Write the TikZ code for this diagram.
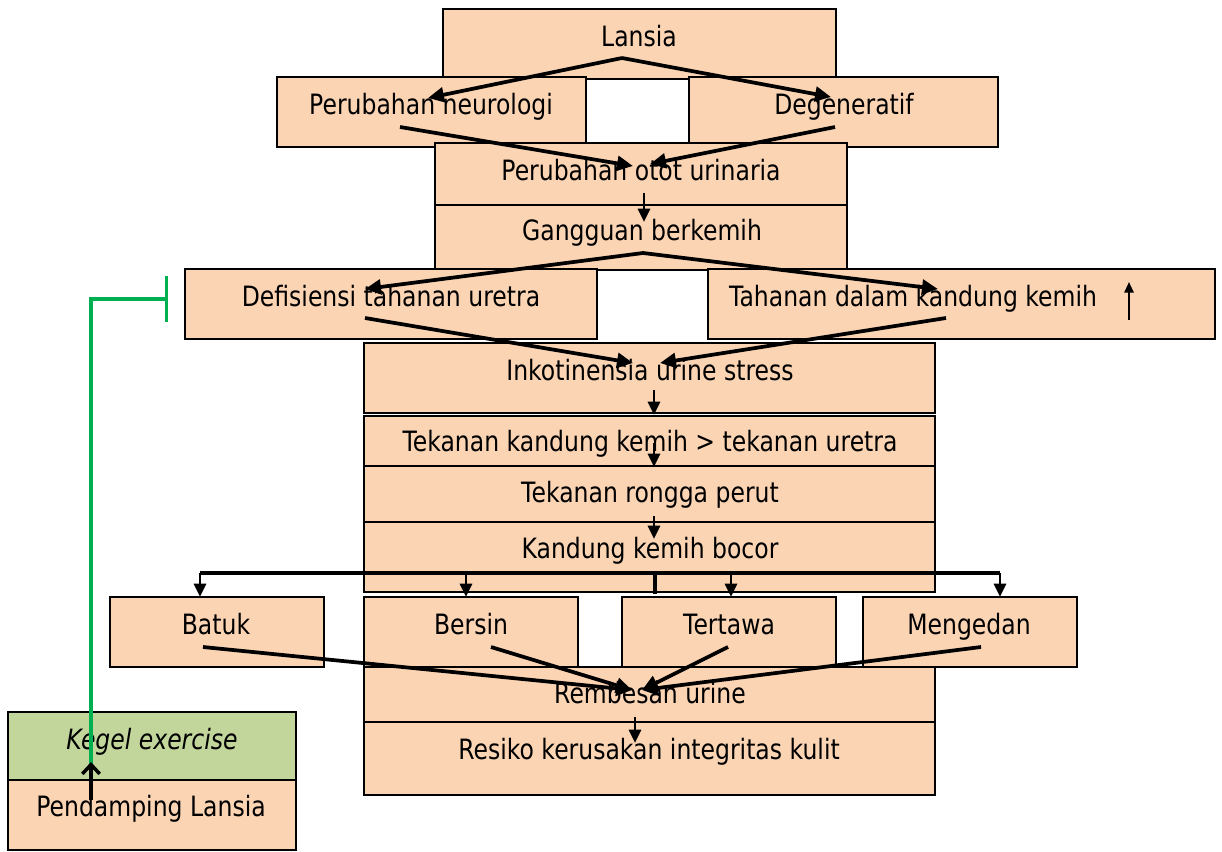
\documentclass[tikz,border=0pt]{standalone}
\usepackage{fontspec}
\setmainfont{DejaVu Sans}[FakeStretch=0.84]
\usetikzlibrary{arrows.meta}
\definecolor{peach}{HTML}{FBD4B4}
\definecolor{olivebox}{HTML}{C2D69B}
\definecolor{grn}{HTML}{00B050}
\newcommand{\bxnode}[6][peach]{%
  \node[box,fill=#1,minimum width={(#5-#3)*0.75pt},minimum height={(#6-#4)*0.75pt}] (#2) at ({(#3+#5)/2},{(#4+#6)/2}) {};}
\begin{document}
\begin{tikzpicture}[x=0.75pt,y=-0.75pt,
  box/.style={draw=black,line width=1.5pt,inner sep=0pt,outer sep=0pt},
  txt/.style={anchor=base,inner sep=0pt,font=\fontsize{21}{25}\selectfont},
  arr/.style={line width=2.8pt,-{Triangle[length=12pt,width=11pt]}},
  arrv/.style={line width=2.2pt,-{Triangle[length=10pt,width=9pt]}},
  arrthin/.style={line width=1.4pt,-{Triangle[length=8pt,width=7pt]}},
  plain/.style={line width=2.8pt}]
\useasboundingbox (0,0) rectangle (1222,851);
% boxes
\bxnode{lansia}{443}{9}{836}{79}
\bxnode{neuro}{277}{77}{586}{147}
\bxnode{degen}{689}{77}{998}{147}
\bxnode{otot}{435}{143}{847}{205}
\bxnode{gang}{435}{205}{847}{270}
\bxnode{defis}{185}{269}{597}{339}
\bxnode{tahan}{708}{269}{1215}{339}
\bxnode{inko}{364}{343}{935}{413}
\bxnode{tekk}{364}{416}{935}{466}
\bxnode{rong}{364}{466}{935}{522}
\bxnode{boc}{364}{522}{935}{592}
\bxnode{batuk}{110}{597}{324}{667}
\bxnode{bersin}{364}{597}{578}{667}
\bxnode{tertawa}{622}{597}{836}{667}
\bxnode{meng}{863}{597}{1077}{667}
\bxnode{remb}{364}{667}{935}{722}
\bxnode{resiko}{364}{722}{935}{795}
\bxnode[olivebox]{kegel}{8}{712}{296}{780}
\bxnode{pend}{8}{780}{296}{850}
% texts
\node[txt] (lansiaT) at (639,46) {Lansia};
\node[txt] (neuroT) at (431,114) {Perubahan neurologi};
\node[txt] (degenT) at (844,114) {Degeneratif};
\node[txt] (ototT) at (641,180) {Perubahan otot urinaria};
\node[txt] (gangT) at (642,240) {Gangguan berkemih};
\node[txt] (defisT) at (391,306) {Defisiensi tahanan uretra};
\node[txt] (tahanT) at (913,306) {Tahanan dalam kandung kemih};
\node[txt] (inkoT) at (650,380) {Inkotinensia urine stress};
\node[txt] (tekkT) at (650,451) {Tekanan kandung kemih > tekanan uretra};
\node[txt] (rongT) at (650,502) {Tekanan rongga perut};
\node[txt] (bocT) at (650,558) {Kandung kemih bocor};
\node[txt] (batukT) at (216,634) {Batuk};
\node[txt] (bersinT) at (471,634) {Bersin};
\node[txt] (tertawaT) at (729,634) {Tertawa};
\node[txt] (mengT) at (969,634) {Mengedan};
\node[txt] (rembT) at (650,703) {Rembesan urine};
\node[txt] (resikoT) at (649,759) {Resiko kerusakan integritas kulit};
\node[txt] (kegelT) at (152,749) {\itshape Kegel exercise};
\node[txt] (pendT) at (151,816) {Pendamping Lansia};
% connector coordinates
\coordinate (lansiaA) at (622,58);
\coordinate (neuroIn) at (428,98);
\coordinate (degIn) at (831,97);
\coordinate (neuroOut) at (400,127);
\coordinate (degOut) at (835,127);
\coordinate (ototIn1) at (633,166);
\coordinate (ototIn2) at (650,164);
\coordinate (ototOut) at (644,193);
\coordinate (gangIn) at (644,222);
\coordinate (gangA) at (643,253);
\coordinate (defIn) at (365,289);
\coordinate (tahIn) at (938,289);
\coordinate (defOut) at (365,318);
\coordinate (tahOut) at (946,318);
\coordinate (inkoIn1) at (633,363);
\coordinate (inkoIn2) at (660,363);
\coordinate (tahUp1) at (1129,320);
\coordinate (tahUp2) at (1129,282);
\coordinate (inkoOut) at (654,390);
\coordinate (tekIn) at (654,415);
\coordinate (tekOut) at (654,443);
\coordinate (rongIn) at (654,467);
\coordinate (rongOut) at (654,516);
\coordinate (bocIn) at (654,539);
\coordinate (stubA) at (655,571);
\coordinate (stubB) at (655,594);
\coordinate (busL) at (200,573);
\coordinate (busR) at (1000,573);
\coordinate (busB) at (466,573);
\coordinate (busT) at (731,573);
\coordinate (batIn) at (200,597);
\coordinate (berIn) at (466,597);
\coordinate (terIn) at (731,597);
\coordinate (menIn) at (1000,597);
\coordinate (batOut) at (203,647);
\coordinate (berOut) at (491,647);
\coordinate (terOut) at (728,647);
\coordinate (menOut) at (981,647);
\coordinate (rembIn1) at (632,690);
\coordinate (rembIn2) at (642,690);
\coordinate (rembOut) at (635,717);
\coordinate (resIn) at (635,743);
\coordinate (pendOut) at (91,800);
\coordinate (kegelIn) at (91,762);
\coordinate (kegelG) at (91,770);
\coordinate (greenC) at (91,299);
\coordinate (greenE) at (168,299);
% connectors
\draw[arr] (lansiaA) -- (neuroIn);
\draw[arr] (lansiaA) -- (degIn);
\draw[arr] (neuroOut) -- (ototIn1);
\draw[arr] (degOut) -- (ototIn2);
\draw[arrv] (ototOut) -- (gangIn);
\draw[arr] (gangA) -- (defIn);
\draw[arr] (gangA) -- (tahIn);
\draw[arr] (defOut) -- (inkoIn1);
\draw[arr] (tahOut) -- (inkoIn2);
\draw[arrthin] (tahUp1) -- (tahUp2);
\draw[arrv] (inkoOut) -- (tekIn);
\draw[arrv] (tekOut) -- (rongIn);
\draw[arrv] (rongOut) -- (bocIn);
\draw[plain] (busL) -- (busR);
\draw[plain] (stubA) -- (stubB);
\draw[arrv] (busL) -- (batIn);
\draw[arrv] (busB) -- (berIn);
\draw[arrv] (busT) -- (terIn);
\draw[arrv] (busR) -- (menIn);
\draw[arr] (batOut) -- (rembIn1);
\draw[arr] (berOut) -- (rembIn1);
\draw[arr] (terOut) -- (rembIn2);
\draw[arr] (menOut) -- (rembIn2);
\draw[arrv] (rembOut) -- (resIn);
\draw[grn,line width=2.6pt,-{Bar[width=35pt]}] (kegelG) -- (greenC) -- (greenE);
\draw[line width=2.6pt,-{Straight Barb[length=7pt,width=13pt]}] (pendOut) -- (kegelIn);
\end{tikzpicture}
\end{document}
